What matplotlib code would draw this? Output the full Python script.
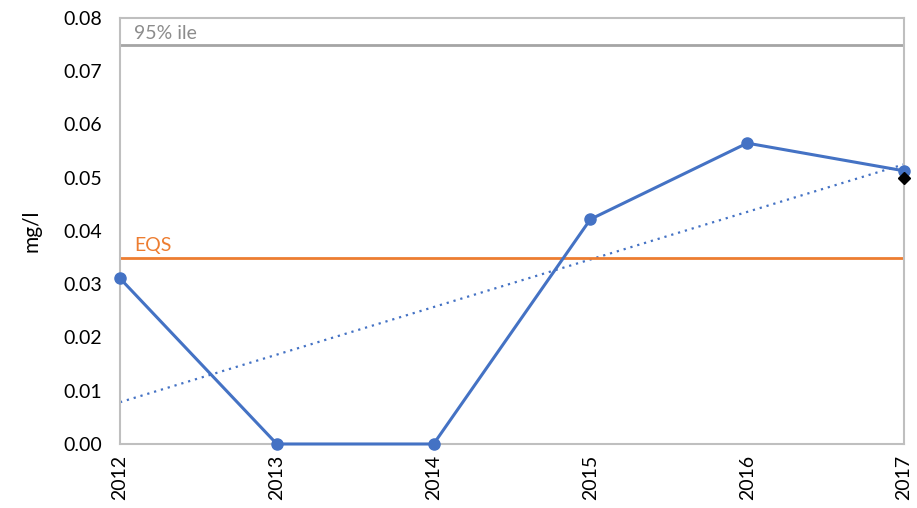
import matplotlib
matplotlib.use("Agg")
import matplotlib.pyplot as plt
import numpy as np

years = [2012, 2013, 2014, 2015, 2016, 2017]
values = [0.0311, 0.0, 0.0, 0.0422, 0.0565, 0.0513]
eqs = 0.035
pct95 = 0.075
latest_year = 2017
latest_value = 0.0500

plt.rcParams['font.family'] = ['Lato', 'DejaVu Sans']

fig = plt.figure(figsize=(9.17, 5.08), dpi=100)
ax = fig.add_axes([0.1309, 0.126, 0.8549, 0.8386])

x = np.arange(len(years))

# trend line
coef = np.polyfit(x, values, 1)
ax.plot(x, np.polyval(coef, x), color='#4472C4', linestyle=(0, (1, 2.2)), linewidth=1.6)

ax.axhline(pct95, color='#A5A5A5', linewidth=2)
ax.axhline(eqs, color='#ED7D31', linewidth=2)

ax.plot(x, values, color='#4472C4', linewidth=2.2, marker='o', markersize=8, zorder=3, clip_on=False)
ax.plot(years.index(latest_year), latest_value, marker='D', color='black', markersize=6, zorder=4, clip_on=False)

ax.text(0.09, pct95 + 0.0005, '95% ile', color='#8C8C8C', fontsize=14, va='bottom')
ax.text(0.09, eqs + 0.0006, 'EQS', color='#ED7D31', fontsize=14, va='bottom')

ax.set_xlim(0, len(years) - 1)
ax.set_ylim(0, 0.08)
ax.set_yticks(np.arange(0, 0.081, 0.01))
ax.set_yticklabels(['%.2f' % v for v in np.arange(0, 0.081, 0.01)])
ax.set_xticks(x)
ax.set_xticklabels([str(y) for y in years], rotation=90)
ax.tick_params(axis='both', length=0, labelsize=14, colors='black')
ax.tick_params(axis='y', pad=13)
ax.tick_params(axis='x', pad=8)
ax.set_ylabel('mg/l', fontsize=15, labelpad=16)

for s in ax.spines.values():
    s.set_color('#BFBFBF')
    s.set_linewidth(1.5)

plt.savefig('out.png', dpi=100)
